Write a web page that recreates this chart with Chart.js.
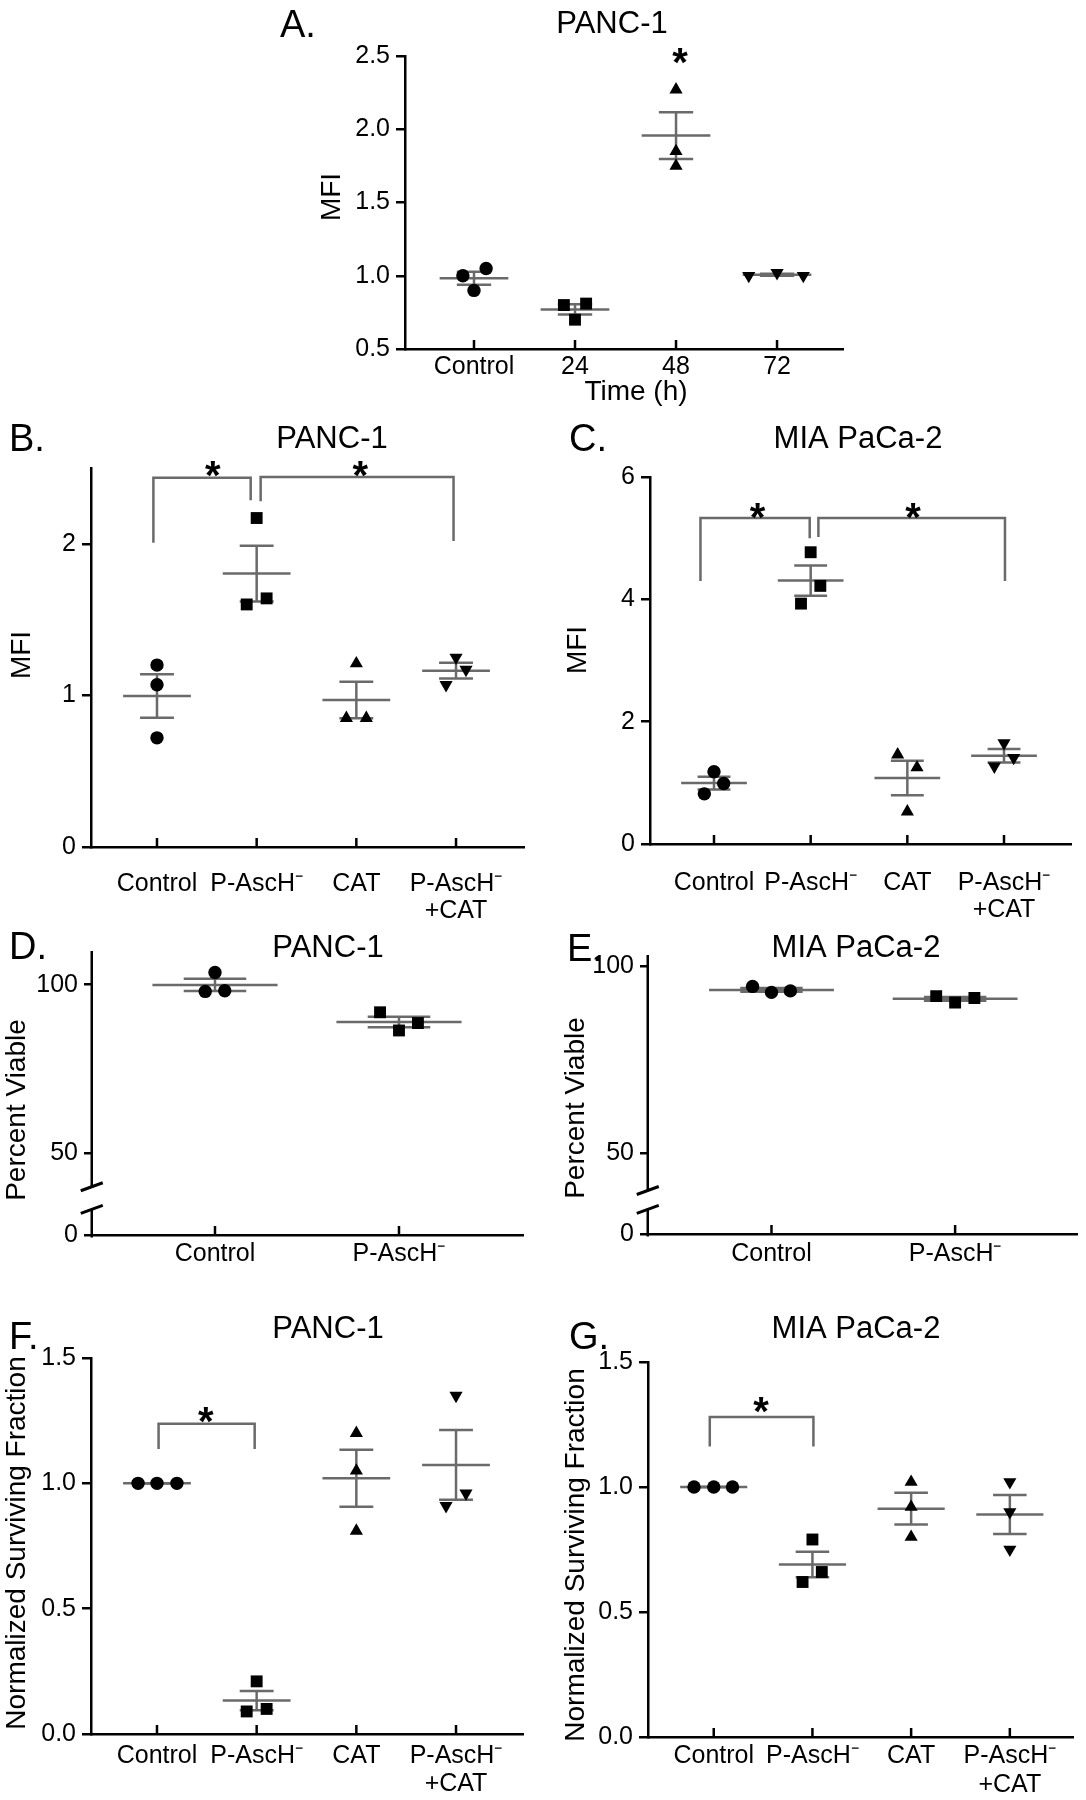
<!DOCTYPE html>
<html>
<head>
<meta charset="utf-8">
<script src="https://cdn.jsdelivr.net/npm/chart.js@4.4.0/dist/chart.umd.min.js"></script>
<style>
  body { margin: 0; background: #fff; }
  #page { position: relative; width: 1086px; height: 1800px; background: #fff; }
  canvas { position: absolute; }
</style>
</head>
<body>
<div id="page"></div>
<script>
// ---- data ----
const catsTime = ['Control', '24', '48', '72'];
const catsTreat = ['Control', 'P-AscH⁻', 'CAT', ['P-AscH⁻', '+CAT']];
const catsViab = ['Control', 'P-AscH⁻'];

// A. PANC-1 MFI over time
const mfiA = [[1.00, 1.05, 0.90], [0.80, 0.81, 0.70], [2.27, 1.85, 1.75], [1.00, 1.02, 1.00]];
const jitA = [[-0.11, 0.12, 0], [-0.11, 0.11, 0], [0, 0, 0], [-0.28, 0, 0.26]];
const ticksA = [0.5, 1.0, 1.5, 2.0, 2.5];
const starsA = [[2.04, 2.52]];

// B. PANC-1 MFI
const mfiB = [[1.20, 1.07, 0.72], [2.17, 1.60, 1.64], [1.21, 0.85, 0.85], [1.25, 1.17, 1.07]];
const jitB = [[0, 0, 0], [0, -0.1, 0.1], [0, -0.1, 0.1], [0, 0.1, -0.1]];
const ticksB = [0, 1, 2];
const bracketsB = [[-0.036, 0.94, 2.007, 2.287, 2.435], [1.04, 2.975, 2.28, 2.018, 2.44]];
const starsB = [[0.56, 2.51], [2.04, 2.51]];

// C. MIA PaCa-2 MFI
const mfiC = [[1.18, 0.99, 0.82], [4.77, 4.22, 3.93], [1.46, 1.25, 0.53], [1.65, 1.41, 1.27]];
const jitC = [[0, 0.1, -0.1], [0, 0.1, -0.1], [-0.1, 0.1, 0], [0, 0.1, -0.1]];
const ticksC = [0, 2, 4, 6];
const bracketsC = [[-0.14, 0.99, 4.30, 5.00, 5.33], [1.08, 3.01, 5.02, 4.30, 5.33]];
const starsC = [[0.45, 5.5], [2.06, 5.5]];

// D. PANC-1 percent viable
const viaD = [[103.6, 98.0, 98.2], [91.8, 86.4, 88.6]];
const jitD = [[0, -0.053, 0.053], [-0.103, 0, 0.103]];
const ticksD = [0, 50, 100];

// E. MIA PaCa-2 percent viable
const viaE = [[94.6, 93.0, 93.4], [92.0, 90.3, 91.5]];
const jitE = [[-0.103, 0, 0.103], [-0.103, 0, 0.105]];
const ticksE = [0, 50, 100];

// F. PANC-1 surviving fraction
const sfF = [[1.00, 1.00, 1.00], [0.21, 0.09, 0.10], [1.20, 1.05, 0.81], [1.35, 0.91, 0.96]];
const jitF = [[-0.19, 0, 0.2], [0, -0.1, 0.1], [0, 0, 0], [0, -0.1, 0.1]];
const ticksF = [0, 0.5, 1.0, 1.5];
const bracketsF = [[0.016, 0.98, 1.137, 1.137, 1.238]];
const starsF = [[0.49, 1.285]];

// G. MIA PaCa-2 surviving fraction
const sfG = [[1.00, 1.00, 1.00], [0.79, 0.66, 0.62], [1.02, 0.92, 0.80], [1.02, 0.90, 0.75]];
const jitG = [[-0.2, 0, 0.19], [0, 0.095, -0.1], [0, 0, 0], [0, 0, 0]];
const ticksG = [0, 0.5, 1.0, 1.5];
const bracketsG = [[-0.04, 1.01, 1.162, 1.162, 1.28]];
const starsG = [[0.48, 1.34]];

// ---- style ----
const FONT = '"Liberation Sans", Arial, Helvetica, sans-serif';
const GREY = '#6a6a6a';
const MARKS = [
  { pointStyle: 'circle', rot: 0, r: 6.7 },
  { pointStyle: 'rect', rot: 0, r: 8.4 },
  { pointStyle: 'triangle', rot: 0, r: 7.6 },
  { pointStyle: 'triangle', rot: 180, r: 7.6 }
];

// broken y axis (D, E): piecewise mapping low part / gap / high part
const BRK = {};
class BrokenScale extends Chart.LinearScale {
  _dec(v) {
    const b = BRK[this.chart.canvas.id];
    if (v <= b.lowMax) return (v - this.min) / (b.lowMax - this.min) * b.lowFrac;
    return b.lowFrac + b.gapFrac + (v - b.highMin) / (this.max - b.highMin) * (1 - b.lowFrac - b.gapFrac);
  }
  getPixelForValue(v) {
    return v === null ? NaN : this.getPixelForDecimal(this._dec(v));
  }
}
BrokenScale.id = 'broken';
BrokenScale.defaults = Chart.LinearScale.defaults;
Chart.register(BrokenScale);

function meanSem(v) {
  const n = v.length;
  const m = v.reduce((a, b) => a + b, 0) / n;
  const sd = Math.sqrt(v.reduce((a, b) => a + (b - m) * (b - m), 0) / (n - 1));
  return [m, sd / Math.sqrt(n)];
}

function line(ctx, pts) {
  ctx.beginPath();
  ctx.moveTo(pts[0][0], pts[0][1]);
  for (let i = 1; i < pts.length; i++) ctx.lineTo(pts[i][0], pts[i][1]);
  ctx.stroke();
}

// error bars (mean ± SEM) under the points
function drawBars(chart, p) {
  const ctx = chart.ctx, xs = chart.scales.x, ys = chart.scales.y;
  ctx.save();
  ctx.strokeStyle = GREY;
  ctx.lineWidth = 2.5;
  p.values.forEach((vals, i) => {
    const [m, se] = meanSem(vals);
    const X = d => xs.getPixelForValue(i + d);
    line(ctx, [[X(-0.34), ys.getPixelForValue(m)], [X(0.34), ys.getPixelForValue(m)]]);
    line(ctx, [[X(-0.17), ys.getPixelForValue(m + se)], [X(0.17), ys.getPixelForValue(m + se)]]);
    line(ctx, [[X(-0.17), ys.getPixelForValue(m - se)], [X(0.17), ys.getPixelForValue(m - se)]]);
    line(ctx, [[X(0), ys.getPixelForValue(m + se)], [X(0), ys.getPixelForValue(m - se)]]);
  });
  ctx.restore();
}

function drawDecor(chart, p) {
  const ctx = chart.ctx, xs = chart.scales.x, ys = chart.scales.y, a = chart.chartArea;
  const ox = p.box[0], oy = p.box[1];
  ctx.save();
  ctx.fillStyle = '#000';
  ctx.strokeStyle = '#000';

  // broken y axis line and break marks
  if (p.brk) {
    const b = p.brk;
    const ax = a.left - 1.25;
    const yLowTop = ys.getPixelForDecimal(b.lowFrac);
    const yHighBot = ys.getPixelForDecimal(b.lowFrac + b.gapFrac);
    ctx.lineWidth = 2.5;
    line(ctx, [[ax, a.bottom + 2.5], [ax, yLowTop]]);
    line(ctx, [[ax, yHighBot], [ax, a.top]]);
    ctx.lineWidth = 3;
    [yLowTop, yHighBot].forEach(y => line(ctx, [[ax - 11, y + 4], [ax + 11, y - 4]]));
  }

  // inward x ticks and category labels
  ctx.lineWidth = 2.5;
  ctx.font = '25px ' + FONT;
  ctx.textAlign = 'center';
  ctx.textBaseline = 'alphabetic';
  p.cats.forEach((c, i) => {
    const x = xs.getPixelForValue(i);
    line(ctx, [[x, a.bottom], [x, a.bottom - 9]]);
    [].concat(c).forEach((t, k) => ctx.fillText(t, x, a.bottom + p.gap + k * p.lineGap));
  });

  // significance brackets
  ctx.strokeStyle = GREY;
  ctx.lineWidth = 2.5;
  (p.brackets || []).forEach(([x1, x2, yb1, yb2, yt]) => {
    const X1 = xs.getPixelForValue(x1), X2 = xs.getPixelForValue(x2), T = ys.getPixelForValue(yt);
    line(ctx, [[X1, ys.getPixelForValue(yb1)], [X1, T], [X2, T], [X2, ys.getPixelForValue(yb2)]]);
  });

  // asterisks
  ctx.font = 'bold 40px ' + FONT;
  (p.stars || []).forEach(([sx, sy]) => {
    ctx.fillText('*', xs.getPixelForValue(sx), ys.getPixelForValue(sy) + 23);
  });

  // panel letter and title
  ctx.textAlign = 'left';
  ctx.font = '38px ' + FONT;
  ctx.fillText(p.letter[0], p.letter[1] - ox, p.letter[2] - oy);
  ctx.textAlign = 'center';
  ctx.font = '31px ' + FONT;
  ctx.fillText(p.title[0], p.title[1] - ox, p.title[2] - oy);

  // axis titles
  ctx.font = '28px ' + FONT;
  if (p.xtitle) ctx.fillText(p.xtitle[0], p.xtitle[1] - ox, p.xtitle[2] - oy);
  ctx.save();
  ctx.translate(p.ytitle[1] - ox, p.ytitle[2] - oy);
  ctx.rotate(-Math.PI / 2);
  ctx.textBaseline = 'middle';
  ctx.fillText(p.ytitle[0], 0, 0);
  ctx.restore();

  ctx.restore();
}

function makePanel(p) {
  const page = document.getElementById('page');
  const c = document.createElement('canvas');
  const [bx, by, bw, bh] = p.box;
  const [L, T, R, B] = p.plot;
  c.id = 'cv' + p.id;
  c.width = bw; c.height = bh;
  c.style.left = bx + 'px'; c.style.top = by + 'px';
  c.style.width = bw + 'px'; c.style.height = bh + 'px';
  page.appendChild(c);
  if (p.brk) BRK[c.id] = p.brk;

  const datasets = p.values.map((vals, i) => ({
    data: vals.map((v, k) => ({ x: i + p.jitter[i][k], y: v })),
    pointStyle: MARKS[i].pointStyle,
    pointRotation: MARKS[i].rot,
    pointRadius: MARKS[i].r,
    pointBackgroundColor: '#000',
    pointBorderWidth: 0,
    showLine: false
  }));

  new Chart(c, {
    type: 'scatter',
    data: { datasets },
    options: {
      responsive: false,
      animation: false,
      devicePixelRatio: 1,
      events: [],
      layout: { padding: { left: 0, top: T - by, right: bx + bw - R, bottom: 0 } },
      plugins: { legend: { display: false }, tooltip: { enabled: false } },
      scales: {
        x: {
          type: 'linear', position: 'bottom', min: p.xr[0], max: p.xr[1],
          ticks: { display: false },
          grid: { display: false },
          border: { display: true, color: '#000', width: 2.5 },
          afterFit: s => { s.height = by + bh - B; }
        },
        y: {
          type: p.brk ? 'broken' : 'linear', position: 'left', min: p.yr[0], max: p.yr[1],
          afterBuildTicks: s => { s.ticks = p.ticks.map(v => ({ value: v })); },
          ticks: {
            callback: v => v.toFixed(p.dec),
            font: { family: FONT, size: 25 }, color: '#000', padding: 6
          },
          grid: { drawOnChartArea: false, drawTicks: true, tickLength: 9, lineWidth: 2.5, color: '#000' },
          border: { display: !p.brk, color: '#000', width: 2.5 },
          afterFit: s => { s.width = L - bx; }
        }
      }
    },
    plugins: [{
      id: 'fig' + p.id,
      beforeDatasetsDraw: chart => drawBars(chart, p),
      afterDraw: chart => drawDecor(chart, p)
    }]
  });
}

const panels = [
  { id: 'A', box: [240, 0, 640, 420], plot: [405, 56, 843, 349], xr: [-0.683, 3.653], yr: [0.5, 2.5],
    ticks: ticksA, dec: 1, cats: catsTime, values: mfiA, jitter: jitA, stars: starsA,
    gap: 25, lineGap: 28, letter: ['A.', 280, 37], title: ['PANC-1', 612, 33],
    ytitle: ['MFI', 332, 197], xtitle: ['Time (h)', 636, 400] },
  { id: 'B', box: [0, 415, 543, 515], plot: [91, 468, 524, 847], xr: [-0.662, 3.682], yr: [0, 2.5],
    ticks: ticksB, dec: 0, cats: catsTreat, values: mfiB, jitter: jitB, brackets: bracketsB, stars: starsB,
    gap: 44, lineGap: 27, letter: ['B.', 9, 451], title: ['PANC-1', 332, 448], ytitle: ['MFI', 22, 655] },
  { id: 'C', box: [543, 415, 543, 515], plot: [650, 477, 1071, 844], xr: [-0.662, 3.693], yr: [0, 6],
    ticks: ticksC, dec: 0, cats: catsTreat, values: mfiC, jitter: jitC, brackets: bracketsC, stars: starsC,
    gap: 46, lineGap: 27, letter: ['C.', 569, 451], title: ['MIA PaCa-2', 858, 448], ytitle: ['MFI', 578, 650] },
  { id: 'D', box: [0, 925, 543, 350], plot: [93, 951, 523, 1235], xr: [-0.663, 1.674], yr: [0, 110],
    brk: { lowMax: 7, highMin: 40, lowFrac: 0.09, gapFrac: 0.08 },
    ticks: ticksD, dec: 0, cats: catsViab, values: viaD, jitter: jitD,
    gap: 26, lineGap: 27, letter: ['D.', 9, 959], title: ['PANC-1', 328, 957], ytitle: ['Percent Viable', 17, 1110] },
  { id: 'E', box: [543, 925, 543, 350], plot: [649, 955, 1083, 1234], xr: [-0.667, 1.667], yr: [0, 103],
    brk: { lowMax: 7, highMin: 40, lowFrac: 0.088, gapFrac: 0.068 },
    ticks: ticksE, dec: 0, cats: catsViab, values: viaE, jitter: jitE,
    gap: 27, lineGap: 27, letter: ['E.', 567, 961], title: ['MIA PaCa-2', 856, 957], ytitle: ['Percent Viable', 576, 1108] },
  { id: 'F', box: [0, 1300, 543, 500], plot: [91, 1358, 523, 1734], xr: [-0.662, 3.672], yr: [0, 1.5],
    ticks: ticksF, dec: 1, cats: catsTreat, values: sfF, jitter: jitF, brackets: bracketsF, stars: starsF,
    gap: 29, lineGap: 28, letter: ['F.', 9, 1349], title: ['PANC-1', 328, 1338], ytitle: ['Normalized Surviving Fraction', 17, 1543] },
  { id: 'G', box: [543, 1300, 543, 500], plot: [648, 1362, 1073, 1737], xr: [-0.666, 3.64], yr: [0, 1.5],
    ticks: ticksG, dec: 1, cats: catsTreat, values: sfG, jitter: jitG, brackets: bracketsG, stars: starsG,
    gap: 26, lineGap: 29, letter: ['G.', 569, 1349], title: ['MIA PaCa-2', 856, 1338], ytitle: ['Normalized Surviving Fraction', 576, 1555] }
];

panels.forEach(makePanel);
</script>
</body>
</html>
